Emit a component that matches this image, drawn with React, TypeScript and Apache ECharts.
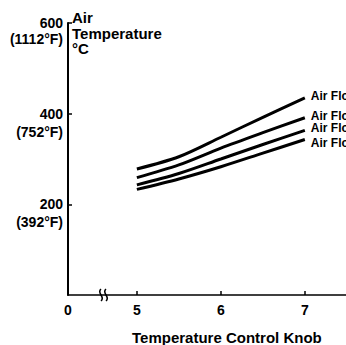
import React, { useEffect, useRef } from 'react';
import * as echarts from 'echarts';

// Temperature control knob positions (x) and air temperature in °C (y)
const knob = [5, 5.5, 6, 6.5, 7];
const airFlowA = [278, 305, 348, 392, 435];
const airFlowB = [259, 287, 324, 358, 391];
const airFlowC = [243, 268, 300, 332, 363];
const airFlowD = [233, 256, 283, 313, 343];
const seriesLabels = ['Air Flow', 'Air Flow', 'Air Flow', 'Air Flow'];

// axis ticks
const yTickValues = [200, 400, 600];
const yTickFahrenheit = ['(392°F)', '(752°F)', '(1112°F)'];
const xTickValues = [5, 6, 7];
const xZeroPos = 4.18; // position of "0" before the axis break
const xLabelValues = [xZeroPos, 5, 6, 7];

const FONT = '"Liberation Sans", Arial, sans-serif';

export default function App() {
  const ref = useRef<HTMLDivElement>(null);
  useEffect(() => {
    document.body.style.margin = '0';
    const chart = echarts.init(ref.current!, null, { renderer: 'svg' });
    const allSeries = [airFlowA, airFlowB, airFlowC, airFlowD];
    const labelShift = [-2, -2, -2, 3];
    const richBase = { fontSize: 14, fontWeight: 'bold', color: '#000', fontFamily: FONT, align: 'right' };
    chart.setOption({
      animation: false,
      backgroundColor: '#ffffff',
      textStyle: { fontFamily: FONT },
      title: [
        {
          text: 'Air\nTemperature\n°C',
          left: 72,
          top: 10,
          padding: 0,
          textStyle: { fontSize: 15, fontWeight: 'bold', color: '#000', lineHeight: 15.5, fontFamily: FONT },
        },
        {
          text: 'Temperature Control Knob',
          left: 132,
          top: 330,
          padding: 0,
          textStyle: { fontSize: 15, fontWeight: 'bold', color: '#000', fontFamily: FONT },
        },
      ],
      grid: { left: 68, top: 19, right: 0, bottom: 50 },
      xAxis: {
        type: 'value',
        min: xZeroPos,
        max: 7.49,
        splitLine: { show: false },
        axisLine: { show: true, lineStyle: { color: '#000', width: 1.5 } },
        axisTick: { show: true, inside: true, length: 4, customValues: xTickValues, lineStyle: { color: '#000', width: 1.5 } },
        axisLabel: {
          customValues: xLabelValues,
          formatter: (v: number) => (v < 4.5 ? '0' : String(Math.round(v))),
          color: '#000',
          fontSize: 14,
          fontWeight: 'bold',
          margin: 8,
          hideOverlap: false,
        },
      },
      yAxis: {
        type: 'value',
        min: 0,
        max: 600,
        interval: 200,
        splitLine: { show: false },
        axisLine: { show: true, lineStyle: { color: '#000', width: 2 } },
        axisTick: { show: true, inside: true, length: 4, customValues: yTickValues, lineStyle: { color: '#000', width: 1.5 } },
        axisLabel: {
          customValues: yTickValues,
          formatter: (v: number) => {
            const i = yTickValues.indexOf(v);
            if (i < 0) return '';
            const s = v === 600 ? 't' : 'a';
            return `{${s}| }\n{${s}|${v}}\n{${s}|${yTickFahrenheit[i]}}`;
          },
          rich: {
            a: { ...richBase, lineHeight: 18 },
            t: { ...richBase, lineHeight: 16 },
          },
          color: '#000',
          fontSize: 14,
          fontWeight: 'bold',
          margin: 5,
          align: 'right',
          showMaxLabel: true,
        },
      },
      series: allSeries.map((vals, i) => ({
        type: 'line',
        name: seriesLabels[i],
        data: knob.map((k, j) => [k, vals[j]]),
        smooth: 0.3,
        symbol: 'none',
        lineStyle: { color: '#000', width: 3 },
        endLabel: {
          show: true,
          formatter: '{a}',
          distance: 6,
          offset: [0, labelShift[i]],
          color: '#000',
          fontSize: 12,
          lineHeight: 12,
          fontWeight: 'bold',
          fontFamily: FONT,
        },
      })),
      graphic: [
        {
          type: 'bezierCurve',
          shape: { x1: 101, y1: 301, x2: 101, y2: 289, cpx1: 106, cpy1: 297, cpx2: 96, cpy2: 293 },
          style: { stroke: '#000', lineWidth: 1.5, fill: null },
        },
        {
          type: 'bezierCurve',
          shape: { x1: 106, y1: 301, x2: 106, y2: 289, cpx1: 111, cpy1: 297, cpx2: 101, cpy2: 293 },
          style: { stroke: '#000', lineWidth: 1.5, fill: null },
        },
      ],
    });
    return () => chart.dispose();
  }, []);
  return <div ref={ref} style={{ width: 346, height: 345 }} />;
}
